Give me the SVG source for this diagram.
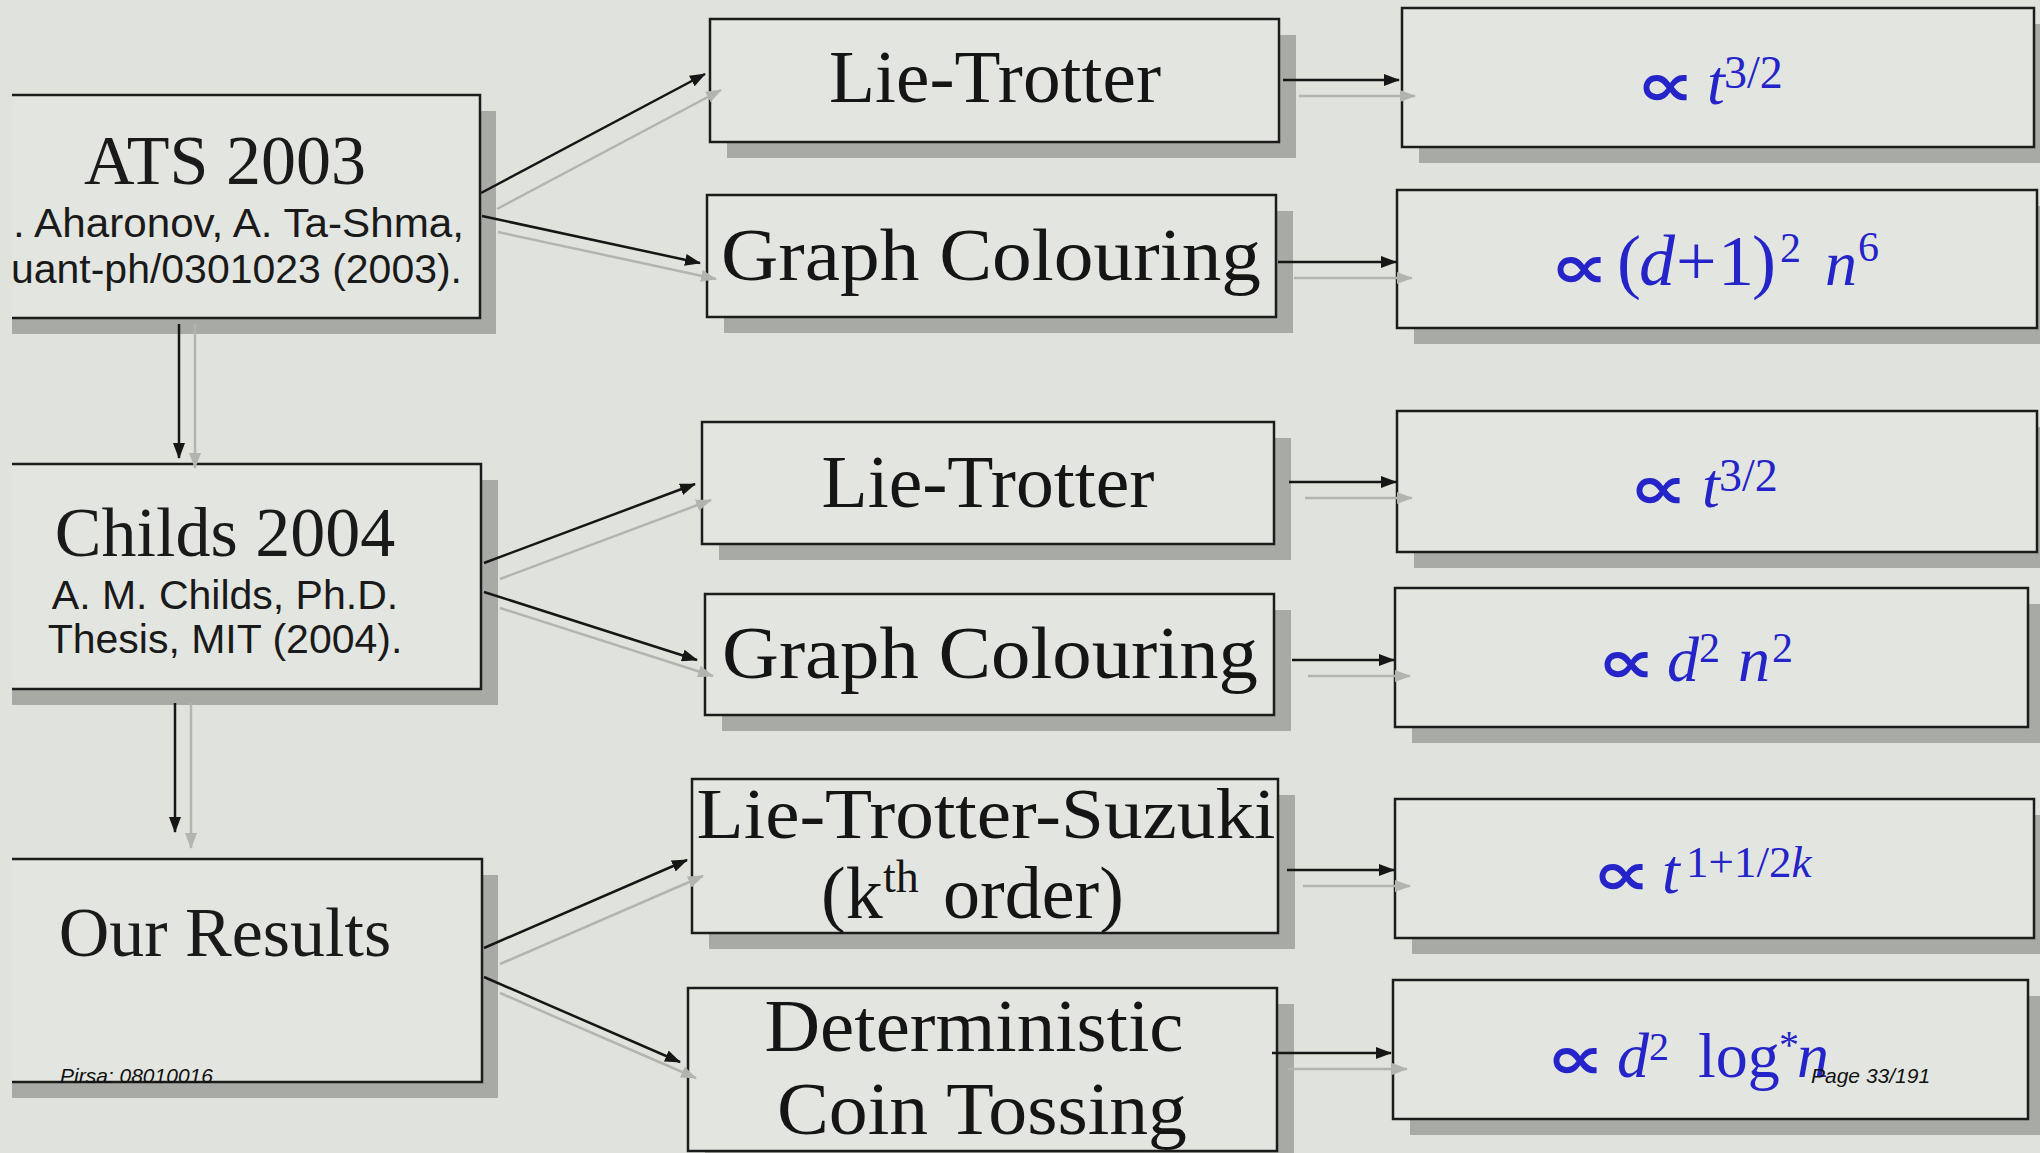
<svg xmlns="http://www.w3.org/2000/svg" width="2040" height="1153" viewBox="0 0 2040 1153">
  <defs>
    <marker id="ah" viewBox="0 0 16 12" refX="15" refY="6" markerWidth="16" markerHeight="12" markerUnits="userSpaceOnUse" orient="auto">
      <path d="M0,0 L16,6 L0,12 z" fill="#161616"/>
    </marker>
    <marker id="ahg" viewBox="0 0 16 12" refX="15" refY="6" markerWidth="16" markerHeight="12" markerUnits="userSpaceOnUse" orient="auto">
      <path d="M0,0 L16,6 L0,12 z" fill="#b2b5af"/>
    </marker>
  </defs>
  <style>
    .shadow{fill:#a8aaa5}
    .box{fill:#e3e6e0;stroke:#1c1c1c;stroke-width:2.5}
    .fill{fill:#e3e6e0}
    .edge{fill:none;stroke:#1c1c1c;stroke-width:2.5}
    .title{font-family:"Liberation Serif","Times New Roman",serif;font-size:70px;fill:#1a1a1a;text-anchor:middle}
    .ref{font-family:"Liberation Sans",Arial,sans-serif;font-size:41px;fill:#1a1a1a}
    .method{font-family:"Liberation Serif","Times New Roman",serif;font-size:74px;fill:#151515;text-anchor:middle}
    .m{font-family:"Liberation Serif","Times New Roman",serif;font-size:64px;fill:#2424c8}
    .it{font-style:italic}
    .sym{font-family:"DejaVu Sans",sans-serif;font-weight:bold;font-size:82px;fill:#2424c8}
    .wire{stroke:#161616;stroke-width:2.5;fill:none;marker-end:url(#ah)}
    .ghost{stroke:#b2b5af;stroke-width:2.5;fill:none;marker-end:url(#ahg)}
    .foot{font-family:"Liberation Sans",Arial,sans-serif;font-size:21px;font-style:italic;fill:#111}
  </style>

  <!-- slide background -->
  <rect x="0" y="0" width="2040" height="1153" fill="#dfe3dc"/>

  <!-- left column: prior work and our results (left edges run off the frame) -->
  <g id="ats2003">
    <rect class="shadow" x="12" y="111" width="484" height="223"/>
    <rect class="fill" x="12" y="95" width="468" height="223"/>
    <path class="edge" d="M12,95 H480 V318 H12"/>
    <text class="title" x="225" y="184">ATS 2003</text>
    <text class="ref" x="464" y="237" style="text-anchor:end" textLength="451" lengthAdjust="spacingAndGlyphs">. Aharonov, A. Ta-Shma,</text>
    <text class="ref" x="462" y="283" style="text-anchor:end" textLength="451" lengthAdjust="spacingAndGlyphs">uant-ph/0301023 (2003).</text>
  </g>
  <g id="childs2004">
    <rect class="shadow" x="12" y="480" width="486" height="225"/>
    <rect class="fill" x="12" y="464" width="469" height="225"/>
    <path class="edge" d="M12,464 H481 V689 H12"/>
    <text class="title" x="225" y="556">Childs 2004</text>
    <text class="ref" x="225" y="609" style="text-anchor:middle">A. M. Childs, Ph.D.</text>
    <text class="ref" x="225" y="653" style="text-anchor:middle">Thesis, MIT (2004).</text>
  </g>
  <g id="our-results">
    <rect class="shadow" x="12" y="875" width="486" height="223"/>
    <rect class="fill" x="12" y="859" width="470" height="223"/>
    <path class="edge" d="M12,859 H482 V1082 H12"/>
    <text class="title" x="225" y="956">Our Results</text>
  </g>

  <!-- middle column: simulation methods -->
  <g id="lie-trotter-1">
    <rect class="shadow" x="727" y="35" width="569" height="123"/>
    <rect class="box" x="710" y="19" width="569" height="123"/>
    <text class="method" x="995" y="102" textLength="332" lengthAdjust="spacingAndGlyphs">Lie-Trotter</text>
  </g>
  <g id="graph-colouring-1">
    <rect class="shadow" x="724" y="211" width="569" height="122"/>
    <rect class="box" x="707" y="195" width="569" height="122"/>
    <text class="method" x="991" y="280" textLength="540" lengthAdjust="spacingAndGlyphs">Graph Colouring</text>
  </g>
  <g id="lie-trotter-2">
    <rect class="shadow" x="719" y="438" width="572" height="122"/>
    <rect class="box" x="702" y="422" width="572" height="122"/>
    <text class="method" x="988" y="507" textLength="333" lengthAdjust="spacingAndGlyphs">Lie-Trotter</text>
  </g>
  <g id="graph-colouring-2">
    <rect class="shadow" x="722" y="610" width="569" height="121"/>
    <rect class="box" x="705" y="594" width="569" height="121"/>
    <text class="method" x="990" y="678" textLength="536" lengthAdjust="spacingAndGlyphs">Graph Colouring</text>
  </g>
  <g id="lie-trotter-suzuki">
    <rect class="shadow" x="709" y="795" width="586" height="154"/>
    <rect class="box" x="692" y="779" width="586" height="154"/>
    <text class="method" x="986" y="838" style="font-size:72px" textLength="579" lengthAdjust="spacingAndGlyphs">Lie-Trotter-Suzuki</text>
    <text class="method" y="918" style="font-size:74px;text-anchor:start"><tspan x="821">(k</tspan><tspan x="883" y="892" style="font-size:46px">th</tspan><tspan x="943" y="918">order)</tspan></text>
  </g>
  <g id="deterministic-coin-tossing">
    <rect class="shadow" x="705" y="1004" width="589" height="163"/>
    <rect class="box" x="688" y="988" width="589" height="163"/>
    <text class="method" x="974" y="1051" textLength="419" lengthAdjust="spacingAndGlyphs">Deterministic</text>
    <text class="method" x="982" y="1134" textLength="410" lengthAdjust="spacingAndGlyphs">Coin Tossing</text>
  </g>

  <!-- right column: scaling of each method -->
  <g id="scaling-1">
    <rect class="shadow" x="1419" y="24" width="632" height="139"/>
    <rect class="box" x="1402" y="8" width="632" height="139"/>
    <text class="sym" transform="translate(1636,106) scale(1,0.75)">∝</text>
    <text class="m it" x="1707" y="104">t</text>
    <text class="m" x="1724" y="88" style="font-size:46px">3/2</text>
  </g>
  <g id="scaling-2">
    <rect class="shadow" x="1414" y="206" width="640" height="138"/>
    <rect class="box" x="1397" y="190" width="640" height="138"/>
    <text class="sym" transform="translate(1550,288) scale(1,0.75)">∝</text>
    <text class="m" y="285" style="font-size:72px"><tspan x="1617">(</tspan><tspan x="1639" class="it">d</tspan><tspan x="1676">+</tspan><tspan x="1718">1</tspan><tspan x="1752">)</tspan></text>
    <text class="m" x="1780" y="262" style="font-size:42px">2</text>
    <text class="m it" x="1825" y="285">n</text>
    <text class="m" x="1858" y="261" style="font-size:42px">6</text>
  </g>
  <g id="scaling-3">
    <rect class="shadow" x="1414" y="427" width="640" height="141"/>
    <rect class="box" x="1397" y="411" width="640" height="141"/>
    <text class="sym" transform="translate(1629,509) scale(1,0.75)">∝</text>
    <text class="m it" x="1702" y="507">t</text>
    <text class="m" x="1719" y="491" style="font-size:46px">3/2</text>
  </g>
  <g id="scaling-4">
    <rect class="shadow" x="1412" y="604" width="633" height="139"/>
    <rect class="box" x="1395" y="588" width="633" height="139"/>
    <text class="sym" transform="translate(1597,683) scale(1,0.75)">∝</text>
    <text class="m it" x="1667" y="681">d</text>
    <text class="m" x="1699" y="662" style="font-size:42px">2</text>
    <text class="m it" x="1738" y="681">n</text>
    <text class="m" x="1772" y="662" style="font-size:42px">2</text>
  </g>
  <g id="scaling-5">
    <rect class="shadow" x="1412" y="815" width="639" height="139"/>
    <rect class="box" x="1395" y="799" width="639" height="139"/>
    <text class="sym" transform="translate(1592,895) scale(1,0.75)">∝</text>
    <text class="m it" x="1662" y="893">t</text>
    <text class="m" x="1686" y="877" style="font-size:45px">1+1/2<tspan class="it">k</tspan></text>
  </g>
  <g id="scaling-6">
    <rect class="shadow" x="1410" y="996" width="635" height="139"/>
    <rect class="box" x="1393" y="980" width="635" height="139"/>
    <text class="sym" transform="translate(1546,1079) scale(1,0.75)">∝</text>
    <text class="m it" x="1617" y="1077">d</text>
    <text class="m" x="1649" y="1060" style="font-size:40px">2</text>
    <text class="m" x="1698" y="1077" style="font-size:64px">log</text>
    <text class="m" x="1779" y="1058" style="font-size:40px">*</text>
    <text class="m it" x="1797" y="1077">n</text>
  </g>

  <!-- connectors: soft drop shadows first, then the arrows themselves -->
  <g id="connectors">
    <g transform="translate(16,16)">
      <path class="ghost" d="M179,308 V452"/>
      <path class="ghost" d="M175,687 V832"/>
      <path class="ghost" d="M481,193 L705,74"/>
      <path class="ghost" d="M482,216 L700,263"/>
      <path class="ghost" d="M484,563 L695,484"/>
      <path class="ghost" d="M484,592 L697,660"/>
      <path class="ghost" d="M484,948 L687,860"/>
      <path class="ghost" d="M484,977 L680,1062"/>
      <path class="ghost" d="M1283,80 H1399"/>
      <path class="ghost" d="M1278,262 H1396"/>
      <path class="ghost" d="M1289,482 H1396"/>
      <path class="ghost" d="M1292,660 H1394"/>
      <path class="ghost" d="M1287,870 H1394"/>
      <path class="ghost" d="M1272,1053 H1391"/>
    </g>
    <path class="wire" d="M179,324 V458"/>
    <path class="wire" d="M175,703 V832"/>
    <path class="wire" d="M481,193 L705,74"/>
    <path class="wire" d="M482,216 L700,263"/>
    <path class="wire" d="M484,563 L695,484"/>
    <path class="wire" d="M484,592 L697,660"/>
    <path class="wire" d="M484,948 L687,860"/>
    <path class="wire" d="M484,977 L680,1062"/>
    <path class="wire" d="M1283,80 H1399"/>
    <path class="wire" d="M1278,262 H1396"/>
    <path class="wire" d="M1289,482 H1396"/>
    <path class="wire" d="M1292,660 H1394"/>
    <path class="wire" d="M1287,870 H1394"/>
    <path class="wire" d="M1272,1053 H1391"/>
  </g>

  <!-- recording captions -->
  <text class="foot" x="60" y="1083">Pirsa: 08010016</text>
  <text class="foot" x="1811" y="1083">Page 33/191</text>
</svg>
